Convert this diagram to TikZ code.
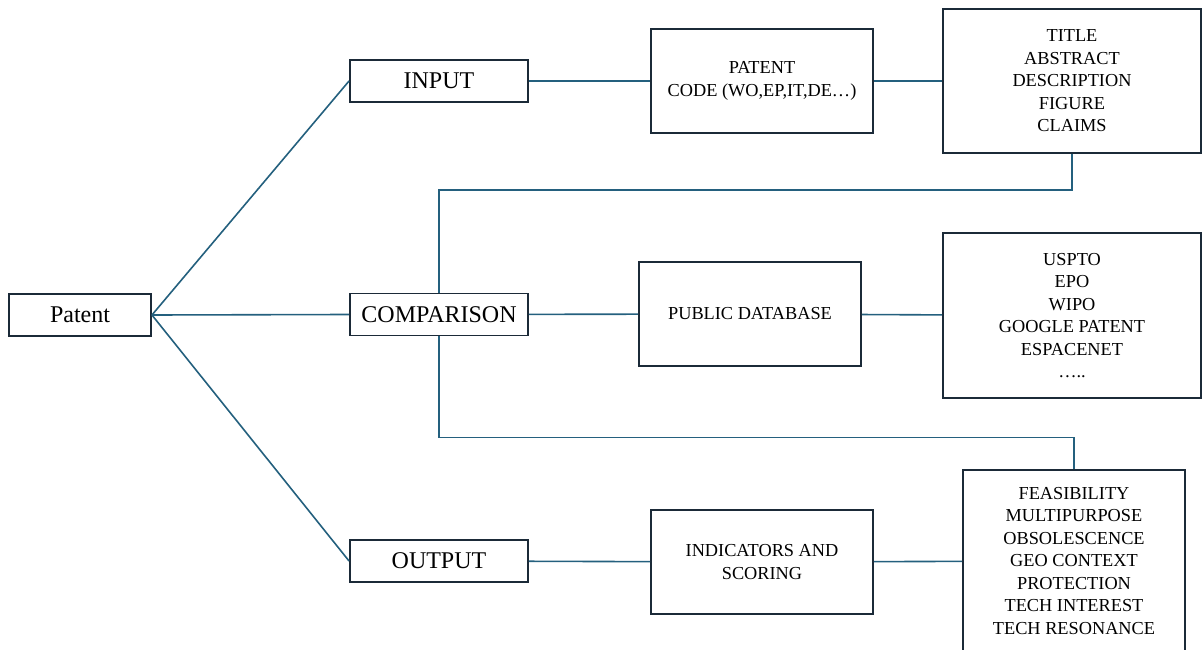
\documentclass[tikz,border=0pt]{standalone}
\usepackage{fontspec}
\setmainfont{Liberation Serif}
\usepackage[dvipsnames]{xcolor}
\definecolor{linkblue}{HTML}{24607E}
\definecolor{boxnavy}{HTML}{1B2A38}

\begin{document}
\begin{tikzpicture}[x=1pt,y=-1pt,-,thick,
    main node/.style={draw=boxnavy,line width=1.9pt,inner sep=0pt,minimum height=42pt,font=\fontsize{24}{28}\selectfont},
    list node/.style={draw=boxnavy,line width=1.9pt,inner sep=0pt,align=center,font=\fontsize{18.3}{22.5}\selectfont},
    link/.style={draw=linkblue,line width=1.6pt}]

            \clip (0,0) rectangle (1202,650);

            \node[main node, minimum width=142pt] (1) at (80,315) {Patent};
            \node[main node, minimum width=178pt] (2) at (439,81) {INPUT};
            \node[main node, minimum width=178pt] (3) at (439,314.5) {COMPARISON};
            \node[main node, minimum width=178pt] (4) at (439,561) {OUTPUT};
            \node[list node, minimum width=222pt, minimum height=104pt] (5) at (762,81) {PATENT\\CODE (WO,EP,IT,DE…)};
            \node[list node, minimum width=258pt, minimum height=144pt] (6) at (1072,81) {TITLE\\ABSTRACT\\DESCRIPTION\\FIGURE\\CLAIMS};
            \node[list node, minimum width=222pt, minimum height=104pt] (7) at (750,314) {PUBLIC DATABASE};
            \node[list node, minimum width=258pt, minimum height=165pt] (8) at (1072,315.5) {USPTO\\EPO\\WIPO\\GOOGLE PATENT\\ESPACENET\\…..};
            \node[list node, minimum width=222pt, minimum height=104pt] (9) at (762,562) {INDICATORS AND\\SCORING};
            \node[list node, minimum width=222pt, minimum height=182pt] (10) at (1074,561) {FEASIBILITY\\MULTIPURPOSE\\OBSOLESCENCE\\GEO CONTEXT\\PROTECTION\\TECH INTEREST\\TECH RESONANCE};

            \draw[link] (1.east) to (2.west);
            \draw[link] (1.east) to (3.west);
            \draw[link] (1.east) to (4.west);
            \draw[link] (2) to (5);
            \draw[link] (5) to (6);
            \draw[link] (3) to (7);
            \draw[link] (7) to (8);
            \draw[link] (4) to (9);
            \draw[link] (9) to (10);
            \draw[link] (6.south) -- ++(0,36) -| (3.north);
            \draw[link] (3.south) -- ++(0,101) -| (10.north);

            ;
        \end{tikzpicture}
\end{document}
